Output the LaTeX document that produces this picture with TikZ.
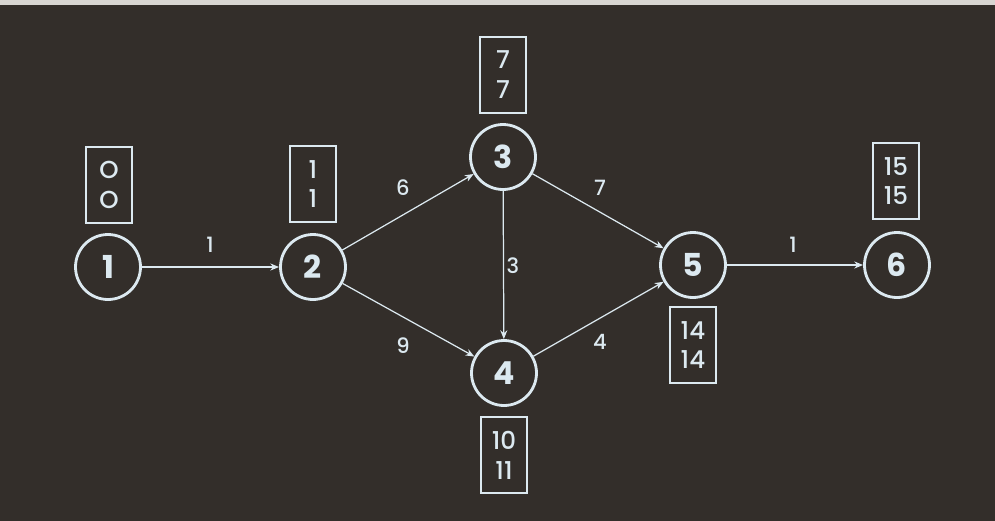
\documentclass[tikz,border=0pt]{standalone}
\usepackage{fontspec}
\setmainfont{Poppins}
\newfontfamily\mediumfont{Poppins}[UprightFont={* Medium}]
\usetikzlibrary{arrows.meta, positioning}
\definecolor{BgDark}{HTML}{332E2A}
\definecolor{ChalkBlue}{HTML}{DCE9F0}
\definecolor{ScanEdge}{HTML}{D8D6D2}

\begin{document}
\begin{tikzpicture}[x=0.02cm, y=-0.02cm, >={Stealth[length=5pt, width=4pt]},
  event/.style={circle, draw=ChalkBlue, line width=1.6pt, minimum size=1.3cm,
    inner sep=0pt, text=ChalkBlue, font=\fontsize{18}{18}\selectfont\bfseries},
  times/.style={draw=ChalkBlue, line width=0.8pt, minimum width=0.92cm,
    minimum height=1.52cm, align=center, text=ChalkBlue,
    font=\mediumfont\fontsize{14}{17}\selectfont},
  act/.style={->, draw=ChalkBlue, line width=0.7pt},
  dur/.style={text=ChalkBlue, font=\mediumfont\fontsize{12}{12}\selectfont}]
  % Background
  \fill[BgDark] (0,0) rectangle (995,521);
  \fill[ScanEdge] (0,0) rectangle (995,5);
  % Events
  \node[event] (n1) at (108,267) {1};
  \node[event] (n2) at (313,267) {2};
  \node[event] (n3) at (503,157) {3};
  \node[event] (n4) at (504,373) {4};
  \node[event] (n5) at (693,265) {5};
  \node[event] (n6) at (897,265) {6};
  % Earliest / latest times
  \node[times] (t1) at (109,185) {O\\O};
  \node[times] (t2) at (313,184) {1\\1};
  \node[times] (t3) at (503,75) {7\\7};
  \node[times] (t4) at (504,455) {10\\11};
  \node[times] (t5) at (693,345) {14\\14};
  \node[times] (t6) at (896,181) {15\\15};
  % Activities
  \draw[act] (n1) -- (n2);
  \draw[act] (n2) -- (n3);
  \draw[act] (n2) -- (n4);
  \draw[act] (n3) -- (n4);
  \draw[act] (n3) -- (n5);
  \draw[act] (n4) -- (n5);
  \draw[act] (n5) -- (n6);
  % Durations
  \node[dur] (d12) at (210,245) {1};
  \node[dur] (d23) at (403,188) {6};
  \node[dur] (d24) at (403,346) {9};
  \node[dur] (d34) at (513,266) {3};
  \node[dur] (d35) at (600,188) {7};
  \node[dur] (d45) at (600,342) {4};
  \node[dur] (d56) at (793,245) {1};
\end{tikzpicture}
\end{document}
